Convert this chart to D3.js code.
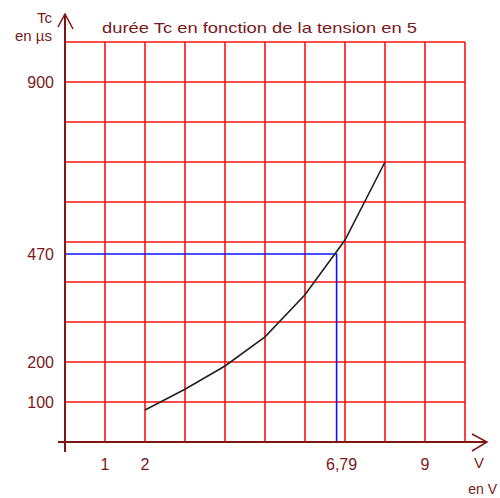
<!DOCTYPE html>
<html>
<head>
<meta charset="utf-8">
<script src="https://cdn.jsdelivr.net/npm/d3@7"></script>
<style>
  body { margin: 0; background: #fff; }
  text { font-family: "Liberation Sans", Arial, sans-serif; fill: #7a1a1a; }
</style>
</head>
<body>
<div id="chart"></div>
<script>
// data
const tension = [2, 3, 4, 5, 6, 7, 8]
const duree = [80, 132, 190, 263, 368, 505, 700]
const yTicks = [100, 200, 470, 900]
const xTicks = [1, 2, 6.79, 9]
const xTickLabels = ["1", "2", "6,79", "9"]
const markV = 6.79
const markTc = 470

const W = 500, H = 498
const AXIS = "#7f1414"

const svg = d3.select("#chart").append("svg")
    .attr("width", W)
    .attr("height", H)

// scales
const x = d3.scaleLinear().domain([0, 10]).range([65, 465])
const y = d3.scaleLinear().domain([0, 1000]).range([442, 42])

// grid
svg.append("g").selectAll("line")
    .data(d3.range(1, 11))
    .join("line")
    .attr("x1", d => x(d)).attr("x2", d => x(d))
    .attr("y1", y(0)).attr("y2", y(1000))
    .attr("stroke", "#ff1010").attr("stroke-width", 1.6)

svg.append("g").selectAll("line")
    .data(d3.range(100, 1001, 100))
    .join("line")
    .attr("x1", x(0)).attr("x2", x(10))
    .attr("y1", d => y(d)).attr("y2", d => y(d))
    .attr("stroke", "#ff1010").attr("stroke-width", 1.6)

// blue reading lines
svg.append("path")
    .attr("d", `M${x(0)},${y(markTc)}H${x(markV)}V${y(0)}`)
    .attr("fill", "none")
    .attr("stroke", "#1010ff")
    .attr("stroke-width", 1.6)

// curve
const line = d3.line()
    .x((d, i) => x(tension[i]))
    .y(d => y(d))
svg.append("path")
    .attr("d", line(duree))
    .attr("fill", "none")
    .attr("stroke", "#222")
    .attr("stroke-width", 1.6)

// axes
svg.append("line")
    .attr("x1", x(0)).attr("x2", x(0))
    .attr("y1", y(0) + 10).attr("y2", 14)
    .attr("stroke", AXIS).attr("stroke-width", 2)
svg.append("path")
    .attr("d", `M58,27L${x(0)},14L73,29`)
    .attr("fill", "none").attr("stroke", AXIS).attr("stroke-width", 1.5)

svg.append("line")
    .attr("x1", x(0) - 7).attr("x2", 487)
    .attr("y1", y(0)).attr("y2", y(0))
    .attr("stroke", AXIS).attr("stroke-width", 2)
svg.append("path")
    .attr("d", `M472,434L487,${y(0)}L472,451`)
    .attr("fill", "none").attr("stroke", AXIS).attr("stroke-width", 1.5)

// tick labels
svg.append("g").selectAll("text")
    .data(yTicks)
    .join("text")
    .attr("x", 54)
    .attr("y", d => y(d) + 6)
    .attr("text-anchor", "end")
    .attr("font-size", 16)
    .text(d => d)

svg.append("g").selectAll("text")
    .data(xTicks)
    .join("text")
    .attr("x", (d, i) => x(d) + (i == 2 ? 5 : 0))
    .attr("y", 470)
    .attr("text-anchor", "middle")
    .attr("font-size", 16)
    .text((d, i) => xTickLabels[i])

// axis titles
svg.append("text").attr("x", 52).attr("y", 23).attr("text-anchor", "end")
    .attr("font-size", 15).text("Tc")
svg.append("text").attr("x", 52).attr("y", 41).attr("text-anchor", "end")
    .attr("font-size", 15).text("en µs")
svg.append("text").attr("x", 479).attr("y", 468).attr("text-anchor", "middle")
    .attr("font-size", 15).text("V")
svg.append("text").attr("x", 497).attr("y", 494).attr("text-anchor", "end")
    .attr("font-size", 14).text("en V")

// title
svg.append("text")
    .attr("x", 102).attr("y", 33)
    .attr("font-size", 15)
    .attr("textLength", 315)
    .attr("lengthAdjust", "spacingAndGlyphs")
    .text("durée Tc  en fonction de la tension en 5")
</script>
</body>
</html>
